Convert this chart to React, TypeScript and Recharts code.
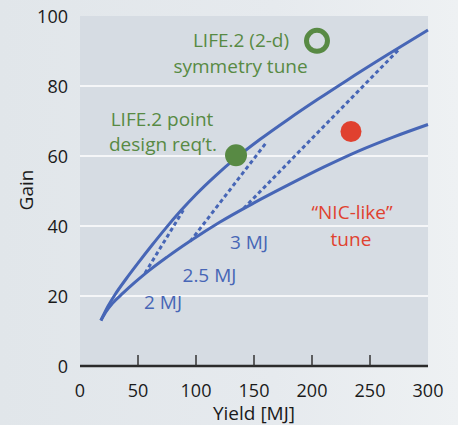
import { LineChart, Line, XAxis, YAxis, CartesianGrid, ReferenceDot, Label } from 'recharts';

const BLUE = '#4766b6';
const GREEN = '#588a44';
const RED = '#e0412f';
const FONT = '"Open Sans", sans-serif';

// yield [MJ] vs gain curves
const upperYield = [18, 24, 30, 40, 50, 62, 74, 87, 100, 117, 134, 155, 180, 205, 230, 265, 300];
const upperGain = [13, 17, 20.3, 25, 29.4, 34.5, 39.4, 44.4, 49, 54.4, 59.3, 64.7, 70.6, 76.2, 81.6, 88.9, 96];
const lowerYield = [18, 22, 28, 37, 47, 57, 75, 95, 120, 150, 180, 210, 240, 270, 300];
const lowerGain = [13, 15.3, 17.9, 20.8, 23.8, 26.6, 31.1, 35.7, 41, 46.6, 51.8, 56.8, 61.4, 65.4, 69];

// dashed connectors (laser energy)
const dash2Yield = [56, 89];
const dash2Gain = [26.5, 44.5];
const dash25Yield = [95, 161];
const dash25Gain = [35.6, 64];
const dash3Yield = [141, 276];
const dash3Gain = [45, 90.8];

const xTicks = [0, 50, 100, 150, 200, 250, 300];
const yTicks = [0, 20, 40, 60, 80, 100];
const gridValues = [20, 40, 60, 80];

// markers
const pointDesign = { x: 134.5, y: 60.2 };
const symmetryTune = { x: 204.3, y: 92.9 };
const nicTune = { x: 233.6, y: 67 };

// annotation text [label, yield, gain, colour]
const notes: [string, number, number, string][] = [
  ['LIFE.2 (2-d)', 138.8, 93.1, GREEN],
  ['symmetry tune', 138.4, 85.7, GREEN],
  ['LIFE.2 point', 70.7, 70.6, GREEN],
  ['design req\u2019t.', 71.6, 63.4, GREEN],
  ['\u201CNIC-like\u201D', 234.5, 44, RED],
  ['tune', 233.6, 36.3, RED],
  ['3 MJ', 145.7, 35.4, BLUE],
  ['2.5 MJ', 111.6, 26, BLUE],
  ['2 MJ', 71.6, 18.3, BLUE],
];

const zip = (xs: number[], ys: number[]) => xs.map((x, i) => ({ x, g: ys[i] }));

const XTick = (props: any) => {
  const { x, y, payload } = props;
  const v = payload.value;
  return (
    <g>
      {v !== 0 && v !== 300 && <line x1={x} x2={x} y1={y} y2={y - 11} stroke="#333" strokeWidth={1.5} />}
      <text x={x} y={y + 30.5} textAnchor="middle" fontSize={18} fill="#1a1a1a">
        {v}
      </text>
    </g>
  );
};

const YTick = (props: any) => {
  const { x, y, payload } = props;
  return (
    <text x={x - 12} y={y + 7} textAnchor="end" fontSize={18} fill="#1a1a1a">
      {payload.value}
    </text>
  );
};

export default function App() {
  return (
    <div
      style={{
        position: 'fixed',
        left: 0,
        top: 0,
        width: 458,
        height: 425,
        fontFamily: FONT,
        background: 'linear-gradient(90deg, #e1e6ea 0%, #e6eaee 60%, #eef1f3 100%)',
      }}
    >
      <LineChart width={458} height={425} margin={{ top: 16, right: 30, bottom: 0, left: 0 }}>
        <CartesianGrid
          vertical={false}
          horizontalValues={gridValues}
          stroke="#ffffff"
          strokeWidth={1.5}
          fill="#d6dce3"
          fillOpacity={1}
        />
        <XAxis
          type="number"
          dataKey="x"
          domain={[0, 300]}
          ticks={xTicks}
          height={59}
          tickSize={0}
          tickMargin={0}
          tickLine={false}
          axisLine={{ stroke: '#2b2b2b', strokeWidth: 2.5 }}
          tick={<XTick />}
        >
          <Label value="Yield [MJ]" position="insideBottom" offset={5} fontSize={19} fill="#1a1a1a" />
        </XAxis>
        <YAxis
          type="number"
          dataKey="g"
          domain={[0, 100]}
          ticks={yTicks}
          width={80}
          tickSize={0}
          tickMargin={0}
          tickLine={false}
          axisLine={false}
          tick={<YTick />}
        >
          <Label
            content={() => (
              <text transform="translate(33,190) rotate(-90)" textAnchor="middle" fontSize={19} fill="#1a1a1a">
                Gain
              </text>
            )}
          />
        </YAxis>

        <Line data={zip(upperYield, upperGain)} dataKey="g" type="monotone" stroke={BLUE} strokeWidth={3} dot={false} isAnimationActive={false} />
        <Line data={zip(lowerYield, lowerGain)} dataKey="g" type="monotone" stroke={BLUE} strokeWidth={3} dot={false} isAnimationActive={false} />
        <Line data={zip(dash2Yield, dash2Gain)} dataKey="g" type="linear" stroke={BLUE} strokeWidth={3} strokeDasharray="4 3" dot={false} isAnimationActive={false} />
        <Line data={zip(dash25Yield, dash25Gain)} dataKey="g" type="linear" stroke={BLUE} strokeWidth={3} strokeDasharray="4 3" dot={false} isAnimationActive={false} />
        <Line data={zip(dash3Yield, dash3Gain)} dataKey="g" type="linear" stroke={BLUE} strokeWidth={3} strokeDasharray="4 3" dot={false} isAnimationActive={false} />

        <ReferenceDot x={pointDesign.x} y={pointDesign.y} r={11} fill={GREEN} stroke="none" />
        <ReferenceDot x={symmetryTune.x} y={symmetryTune.y} r={10.5} fill="none" stroke={GREEN} strokeWidth={5} />
        <ReferenceDot x={nicTune.x} y={nicTune.y} r={10.5} fill={RED} stroke="none" />

        {notes.map(([text, x, y, color]) => (
          <ReferenceDot
            key={text}
            x={x}
            y={y}
            r={0}
            fill="none"
            stroke="none"
            label={{ value: text, position: 'center', fill: color, fontSize: 19 }}
          />
        ))}
      </LineChart>
    </div>
  );
}
